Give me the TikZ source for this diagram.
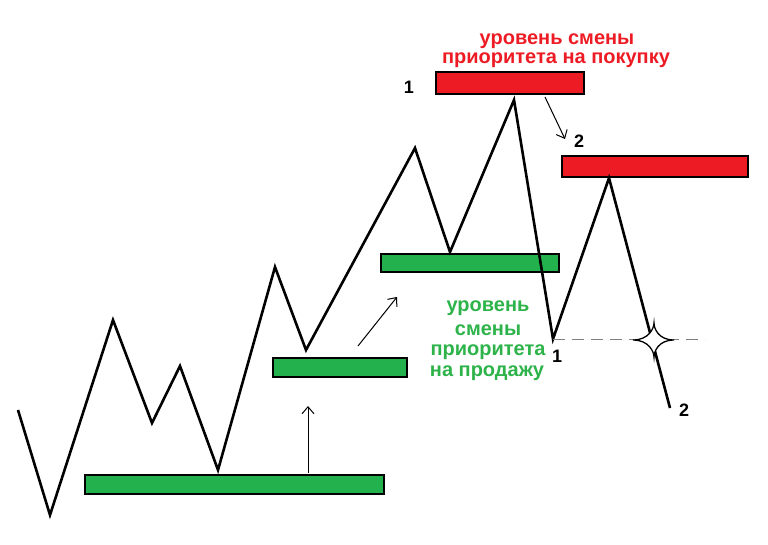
\documentclass[tikz,border=0pt]{standalone}
\usepackage{fontspec}
\setmainfont{Liberation Sans}
\definecolor{pred}{HTML}{ED1C24}
\definecolor{pgreen}{HTML}{22B14C}
\definecolor{tgreen}{HTML}{2DB34A}
\tikzset{
  lvlred/.style={draw=black, line width=1.6pt, fill=pred},
  lvlgreen/.style={draw=black, line width=1.6pt, fill=pgreen},
  price/.style={line width=2.6pt, line join=miter},
  thinarrow/.style={line width=1pt, -{Straight Barb[length=7pt,width=12pt]}},
  num/.style={font=\bfseries\fontsize{18}{20}\selectfont, inner sep=0pt},
  redtxt/.style={font=\bfseries\fontsize{20}{22}\selectfont, text=pred, inner sep=0pt},
  greentxt/.style={font=\bfseries\fontsize{20}{22}\selectfont, text=tgreen, inner sep=0pt},
}
\usetikzlibrary{arrows.meta}
\begin{document}
\begin{tikzpicture}[x=1pt,y=-1pt]
\useasboundingbox (0,0) rectangle (768,544);
% levels
\node[lvlgreen, minimum width=299pt, minimum height=19pt, anchor=north west, inner sep=0pt] (g1) at (84,474) {};
\node[lvlgreen, minimum width=134pt, minimum height=19pt, anchor=north west, inner sep=0pt] (g2) at (272,357) {};
\node[lvlgreen, minimum width=178pt, minimum height=18pt, anchor=north west, inner sep=0pt] (g3) at (380,253) {};
\node[lvlred, minimum width=148pt, minimum height=22pt, anchor=north west, inner sep=0pt] (r1) at (435,71) {};
\node[lvlred, minimum width=186pt, minimum height=21pt, anchor=north west, inner sep=0pt] (r2) at (561,155) {};
% price path
\coordinate (p0) at (18,410);
\coordinate (p1) at (50,515);
\coordinate (p2) at (113,320);
\coordinate (p3) at (152,423);
\coordinate (p4) at (180,366);
\coordinate (p5) at (218,470);
\coordinate (p6) at (275,267);
\coordinate (p7) at (306,350);
\coordinate (p8) at (415,148);
\coordinate (p9) at (450,252);
\coordinate (p10) at (514,100);
\coordinate (p11) at (553,339);
\coordinate (p12) at (609,178);
\coordinate (p13) at (670,408);
\draw[price] (p0) -- (p1) -- (p2) -- (p3) -- (p4) -- (p5) -- (p6) -- (p7) -- (p8) -- (p9) -- (p10) -- (p11) -- (p12) -- (p13);
% dashed level
\coordinate (d1) at (705,339);
\draw[gray, line width=0.9pt, dash pattern=on 12pt off 7pt] (p11) -- (d1);
% star
\coordinate (st) at (654,340);
\draw[fill=white, line width=1.3pt] (st) ++(-21,0) .. controls +(16,0) and +(0,5) .. ++(21,-17)
  .. controls +(0,5) and +(-16,0) .. ++(20,17)
  .. controls +(-16,0) and +(0,-5) .. ++(-20,17)
  .. controls +(0,-5) and +(16,0) .. cycle;
% arrows
\coordinate (a1s) at (308,473);
\coordinate (a1e) at (308,406);
\draw[thinarrow] (a1s) -- (a1e);
\coordinate (a2s) at (358,346);
\coordinate (a2e) at (397,297);
\draw[thinarrow] (a2s) -- (a2e);
\coordinate (a3s) at (545,97);
\coordinate (a3e) at (565,139);
\draw[thinarrow] (a3s) -- (a3e);
% numbers
\node[num] (n1) at (409,87) {1};
\node[num] (n2) at (579,141) {2};
\node[num] (n3) at (557,356) {1};
\node[num] (n4) at (684,410) {2};
% texts
\node[redtxt] (t1) at (557,41) {уровень смены};
\node[redtxt] (t2) at (556,60) {приоритета на покупку};
\node[greentxt] (t3) at (488,308) {уровень};
\node[greentxt] (t4) at (488,330) {смены};
\node[greentxt] (t5) at (488,352) {приоритета};
\node[greentxt] (t6) at (487,373) {на продажу};
\end{tikzpicture}
\end{document}
